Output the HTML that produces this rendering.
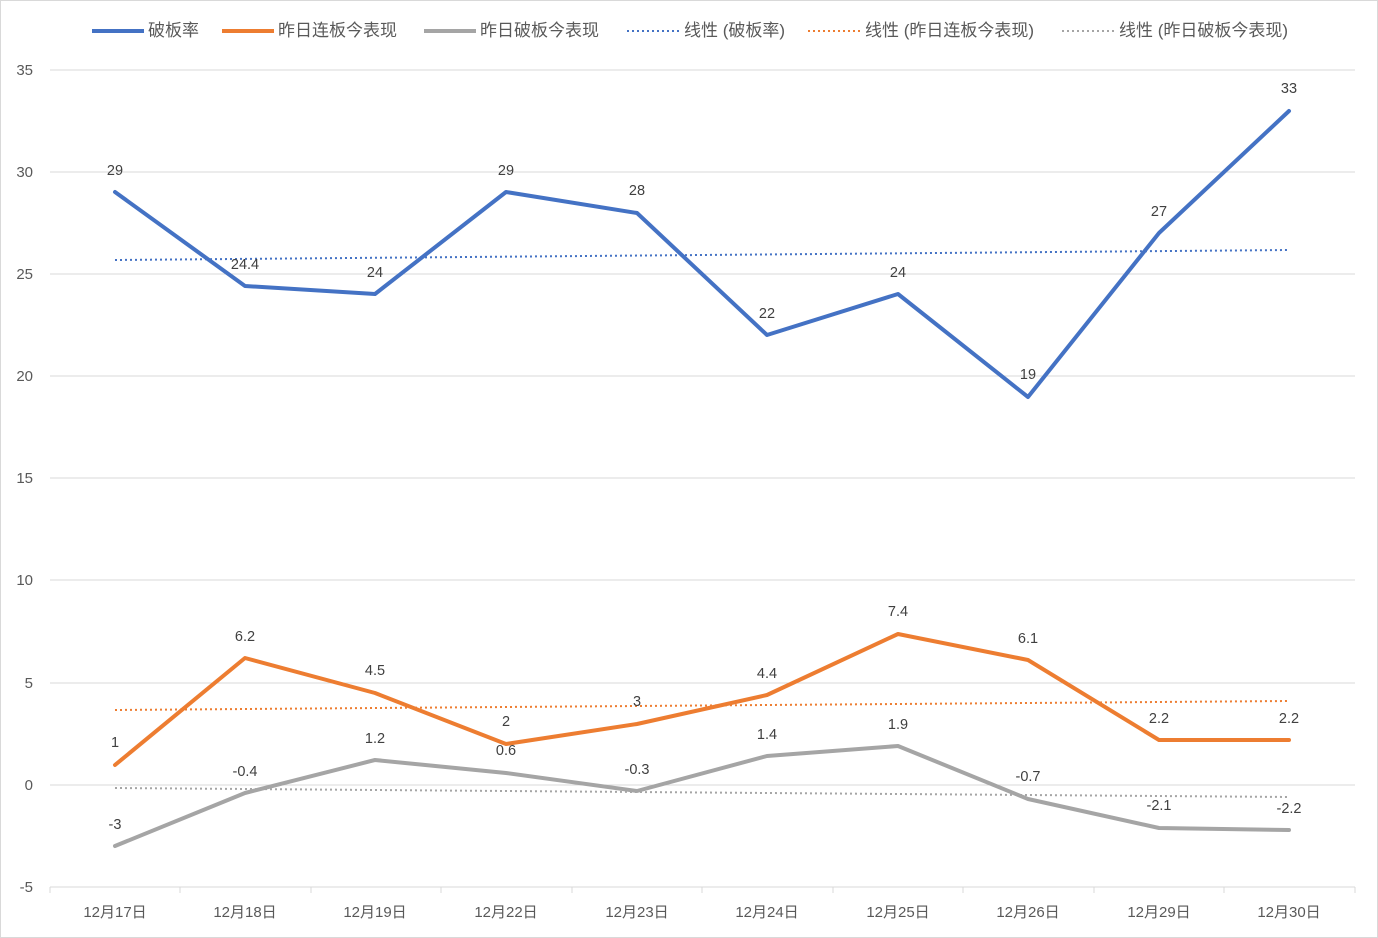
<!DOCTYPE html>
<html><head><meta charset="utf-8"><style>
body{margin:0;background:#fff;}
svg{display:block;font-family:"Liberation Sans","Noto Sans CJK SC",sans-serif;}
</style></head><body>
<svg width="1378" height="938" viewBox="0 0 1378 938" xmlns="http://www.w3.org/2000/svg">
<rect x="0.5" y="0.5" width="1377" height="937" fill="#fff" stroke="#d9d9d9"/>
<g stroke="#d9d9d9" stroke-width="1">
<line x1="50" y1="70" x2="1355" y2="70"/>
<line x1="50" y1="172" x2="1355" y2="172"/>
<line x1="50" y1="274" x2="1355" y2="274"/>
<line x1="50" y1="376" x2="1355" y2="376"/>
<line x1="50" y1="478" x2="1355" y2="478"/>
<line x1="50" y1="580" x2="1355" y2="580"/>
<line x1="50" y1="683" x2="1355" y2="683"/>
<line x1="50" y1="785" x2="1355" y2="785"/>
<line x1="50" y1="887" x2="1355" y2="887"/>
<line x1="50" y1="887" x2="50" y2="893"/><line x1="180" y1="887" x2="180" y2="893"/><line x1="311" y1="887" x2="311" y2="893"/><line x1="441" y1="887" x2="441" y2="893"/><line x1="572" y1="887" x2="572" y2="893"/><line x1="702" y1="887" x2="702" y2="893"/><line x1="833" y1="887" x2="833" y2="893"/><line x1="963" y1="887" x2="963" y2="893"/><line x1="1094" y1="887" x2="1094" y2="893"/><line x1="1224" y1="887" x2="1224" y2="893"/><line x1="1355" y1="887" x2="1355" y2="893"/>
</g>
<g font-size="15" fill="#595959" text-anchor="end">
<text x="33" y="75">35</text><text x="33" y="177">30</text><text x="33" y="279">25</text><text x="33" y="381">20</text><text x="33" y="483">15</text><text x="33" y="585">10</text><text x="33" y="688">5</text><text x="33" y="790">0</text><text x="33" y="892">-5</text>
</g>
<g font-size="15" fill="#595959" text-anchor="middle">
<text x="115" y="917">12月17日</text><text x="245" y="917">12月18日</text><text x="375" y="917">12月19日</text><text x="506" y="917">12月22日</text><text x="637" y="917">12月23日</text><text x="767" y="917">12月24日</text><text x="898" y="917">12月25日</text><text x="1028" y="917">12月26日</text><text x="1159" y="917">12月29日</text><text x="1289" y="917">12月30日</text>
</g>
<g stroke-width="2" stroke-dasharray="2,3" fill="none">
<line x1="115" y1="260" x2="1289" y2="250" stroke="#4472c4"/>
<line x1="115" y1="710" x2="1289" y2="701" stroke="#ed7d31"/>
<line x1="115" y1="788" x2="1289" y2="797" stroke="#a5a5a5"/>
</g>
<g fill="none" stroke-width="4" stroke-linejoin="round" stroke-linecap="round">
<polyline stroke="#4472c4" points="115,192 245,286 375,294 506,192 637,213 767,335 898,294 1028,397 1159,233 1289,111"/>
<polyline stroke="#ed7d31" points="115,765 245,658 375,693 506,744 637,724 767,695 898,634 1028,660 1159,740 1289,740"/>
<polyline stroke="#a5a5a5" points="115,846 245,793 375,760 506,773 637,791 767,756 898,746 1028,799 1159,828 1289,830"/>
</g>
<g font-size="14.5" fill="#404040" text-anchor="middle">
<text x="115" y="175">29</text><text x="245" y="269">24.4</text><text x="375" y="277">24</text><text x="506" y="175">29</text><text x="637" y="195">28</text><text x="767" y="318">22</text><text x="898" y="277">24</text><text x="1028" y="379">19</text><text x="1159" y="216">27</text><text x="1289" y="93">33</text>
<text x="115" y="747">1</text><text x="245" y="641">6.2</text><text x="375" y="675">4.5</text><text x="506" y="726">2</text><text x="637" y="706">3</text><text x="767" y="678">4.4</text><text x="898" y="616">7.4</text><text x="1028" y="643">6.1</text><text x="1159" y="723">2.2</text><text x="1289" y="723">2.2</text>
<text x="115" y="829">-3</text><text x="245" y="776">-0.4</text><text x="375" y="743">1.2</text><text x="506" y="755">0.6</text><text x="637" y="774">-0.3</text><text x="767" y="739">1.4</text><text x="898" y="729">1.9</text><text x="1028" y="781">-0.7</text><text x="1159" y="810">-2.1</text><text x="1289" y="813">-2.2</text>
</g>
<g font-size="17" fill="#595959">
<line x1="92" y1="31" x2="144" y2="31" stroke="#4472c4" stroke-width="4"/><text x="148" y="36">破板率</text>
<line x1="222" y1="31" x2="274" y2="31" stroke="#ed7d31" stroke-width="4"/><text x="278" y="36">昨日连板今表现</text>
<line x1="424" y1="31" x2="476" y2="31" stroke="#a5a5a5" stroke-width="4"/><text x="480" y="36">昨日破板今表现</text>
<line x1="627" y1="31" x2="679" y2="31" stroke="#4472c4" stroke-width="2" stroke-dasharray="2,3"/><text x="684" y="36">线性 (破板率)</text>
<line x1="808" y1="31" x2="860" y2="31" stroke="#ed7d31" stroke-width="2" stroke-dasharray="2,3"/><text x="865" y="36">线性 (昨日连板今表现)</text>
<line x1="1062" y1="31" x2="1114" y2="31" stroke="#a5a5a5" stroke-width="2" stroke-dasharray="2,3"/><text x="1119" y="36">线性 (昨日破板今表现)</text>
</g>
</svg>
</body></html>
